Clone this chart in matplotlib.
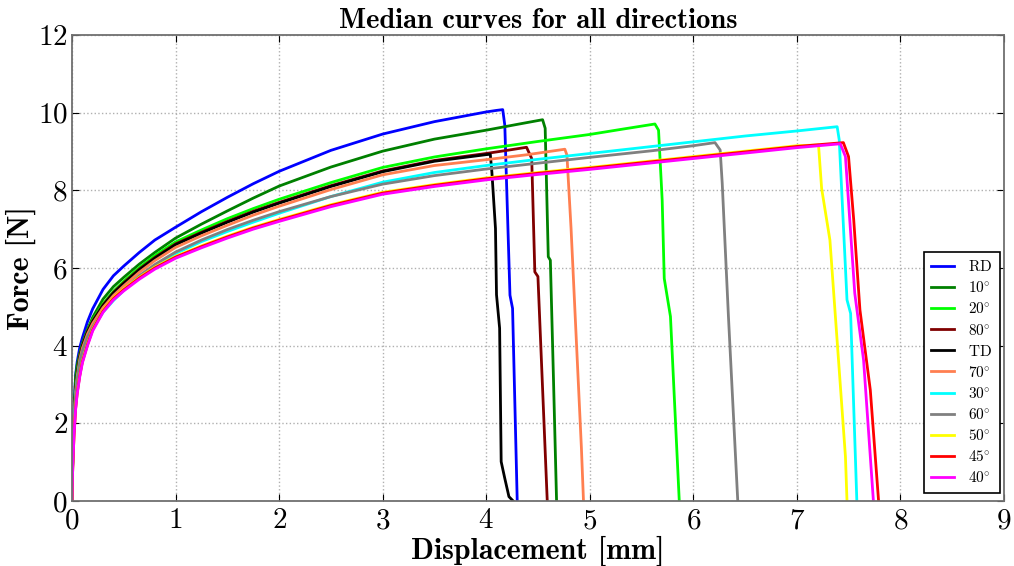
import matplotlib
matplotlib.use("Agg")
import matplotlib.pyplot as plt

plt.rcParams['mathtext.fontset'] = 'cm'
plt.rcParams['axes.formatter.use_mathtext'] = True

# displacement grid for the hardening part (shared by all curves) [mm]
disp_rise = [0, 0.005, 0.01, 0.02, 0.035, 0.05, 0.075, 0.1, 0.15, 0.2, 0.3, 0.4, 0.5,
             0.65, 0.8, 1.0, 1.25, 1.5, 1.75, 2.0, 2.5, 3.0, 3.5, 4.0]

# force on that grid [N]
f_rd = [0, 1.0, 1.6, 2.4, 3.25, 3.58, 3.95, 4.2, 4.62, 4.95, 5.45, 5.8, 6.05,
        6.4, 6.72, 7.05, 7.45, 7.82, 8.17, 8.49, 9.03, 9.45, 9.77, 10.02]
f_10 = [0, 0.95, 1.5, 2.35, 3.2, 3.5, 3.8, 4.05, 4.42, 4.73, 5.2, 5.52, 5.76,
        6.1, 6.4, 6.77, 7.13, 7.47, 7.8, 8.11, 8.6, 9.01, 9.32, 9.55]
f_20 = [0, 0.85, 1.35, 2.15, 2.9, 3.3, 3.74, 4.02, 4.39, 4.67, 5.08, 5.4, 5.66,
        6.01, 6.32, 6.67, 6.98, 7.27, 7.53, 7.77, 8.2, 8.59, 8.86, 9.07]
f_80 = [0, 0.82, 1.32, 2.12, 2.88, 3.28, 3.72, 4.0, 4.37, 4.64, 5.05, 5.37, 5.62,
        5.97, 6.27, 6.62, 6.92, 7.2, 7.46, 7.69, 8.12, 8.5, 8.77, 8.95]
f_td = [0, 0.8, 1.3, 2.1, 2.85, 3.25, 3.7, 3.98, 4.35, 4.62, 5.03, 5.35, 5.6,
        5.95, 6.25, 6.6, 6.9, 7.18, 7.44, 7.67, 8.1, 8.48, 8.75, 8.92]
f_70 = [0, 0.78, 1.28, 2.05, 2.8, 3.2, 3.65, 3.93, 4.3, 4.57, 4.98, 5.29, 5.54,
        5.89, 6.19, 6.53, 6.83, 7.1, 7.36, 7.59, 8.02, 8.4, 8.64, 8.79]
f_30 = [0, 0.75, 1.22, 1.98, 2.72, 3.1, 3.55, 3.83, 4.2, 4.45, 4.86, 5.16, 5.42,
        5.76, 6.05, 6.37, 6.68, 6.94, 7.18, 7.41, 7.84, 8.21, 8.46, 8.64]
f_60 = [0, 0.78, 1.25, 2.0, 2.75, 3.13, 3.58, 3.86, 4.23, 4.49, 4.9, 5.2, 5.45,
        5.8, 6.09, 6.41, 6.72, 6.99, 7.23, 7.45, 7.84, 8.16, 8.38, 8.55]
f_50 = [0, 0.68, 1.08, 1.74, 2.4, 2.8, 3.25, 3.6, 4.05, 4.43, 4.91, 5.23, 5.46,
        5.76, 6.02, 6.3, 6.57, 6.82, 7.05, 7.25, 7.63, 7.95, 8.15, 8.32]
f_45 = [0, 0.67, 1.07, 1.72, 2.38, 2.78, 3.23, 3.58, 4.03, 4.41, 4.89, 5.21, 5.44,
        5.74, 6.0, 6.28, 6.55, 6.8, 7.03, 7.23, 7.61, 7.93, 8.13, 8.3]
f_40 = [0, 0.65, 1.05, 1.7, 2.35, 2.75, 3.2, 3.55, 4.0, 4.38, 4.86, 5.18, 5.41,
        5.71, 5.97, 6.25, 6.52, 6.77, 7.0, 7.2, 7.58, 7.9, 8.1, 8.27]

# peak and fracture part, per curve
tail_x_rd = [4.1, 4.16, 4.18, 4.23, 4.255, 4.30]
tail_y_rd = [10.06, 10.08, 9.68, 5.3, 4.96, 0]
tail_x_10 = [4.3, 4.545, 4.57, 4.60, 4.62, 4.65, 4.68]
tail_y_10 = [9.7, 9.82, 9.6, 6.29, 6.2, 3.16, 0]
tail_x_20 = [4.5, 5.0, 5.3, 5.63, 5.665, 5.70, 5.72, 5.78, 5.865]
tail_y_20 = [9.26, 9.44, 9.57, 9.71, 9.55, 7.75, 5.73, 4.75, 0]
tail_x_80 = [4.2, 4.39, 4.44, 4.47, 4.50, 4.59]
tail_y_80 = [9.03, 9.11, 8.82, 5.9, 5.78, 0]
tail_x_td = [4.04, 4.055, 4.09, 4.10, 4.13, 4.145, 4.18, 4.22, 4.26]
tail_y_td = [8.93, 8.48, 7.02, 5.31, 4.45, 1.01, 0.58, 0.11, 0]
tail_x_70 = [4.4, 4.76, 4.78, 4.82, 4.92, 4.94]
tail_y_70 = [8.92, 9.06, 8.91, 7.02, 1.36, 0]
tail_x_30 = [4.5, 5.0, 5.5, 6.0, 6.5, 7.0, 7.39, 7.41, 7.485, 7.52, 7.58]
tail_y_30 = [8.8, 8.95, 9.1, 9.25, 9.4, 9.53, 9.64, 9.3, 5.18, 4.83, 0]
tail_x_60 = [4.5, 5.0, 5.6, 6.0, 6.21, 6.26, 6.28, 6.34, 6.43]
tail_y_60 = [8.7, 8.85, 9.02, 9.15, 9.23, 9.04, 8.18, 4.75, 0]
tail_x_50 = [4.5, 5.0, 5.5, 6.0, 6.5, 7.0, 7.21, 7.24, 7.32, 7.47, 7.485]
tail_y_50 = [8.46, 8.59, 8.73, 8.87, 9.01, 9.15, 9.17, 8.05, 6.72, 1.14, 0]
tail_x_45 = [4.5, 5.0, 5.5, 6.0, 6.5, 7.0, 7.45, 7.50, 7.55, 7.61, 7.71, 7.79]
tail_y_45 = [8.44, 8.57, 8.71, 8.85, 8.99, 9.13, 9.23, 8.87, 7.24, 4.92, 2.86, 0]
tail_x_40 = [4.5, 5.0, 5.5, 6.0, 6.5, 7.0, 7.42, 7.47, 7.56, 7.645, 7.74]
tail_y_40 = [8.41, 8.54, 8.68, 8.82, 8.96, 9.1, 9.2, 8.87, 5.35, 3.63, 0]

labels = [r'$\mathrm{RD}$', r'$10^{\circ}$', r'$20^{\circ}$', r'$80^{\circ}$', r'$\mathrm{TD}$',
          r'$70^{\circ}$', r'$30^{\circ}$', r'$60^{\circ}$', r'$50^{\circ}$', r'$45^{\circ}$', r'$40^{\circ}$']
colors = ['#0000ff', '#008000', '#00ff00', '#800000', '#000000',
          '#ff7f50', '#00ffff', '#808080', '#ffff00', '#ff0000', '#ff00ff']

rise = [f_rd, f_10, f_20, f_80, f_td, f_70, f_30, f_60, f_50, f_45, f_40]
tails_x = [tail_x_rd, tail_x_10, tail_x_20, tail_x_80, tail_x_td, tail_x_70,
           tail_x_30, tail_x_60, tail_x_50, tail_x_45, tail_x_40]
tails_y = [tail_y_rd, tail_y_10, tail_y_20, tail_y_80, tail_y_td, tail_y_70,
           tail_y_30, tail_y_60, tail_y_50, tail_y_45, tail_y_40]

fig = plt.figure(figsize=(10.14, 5.66), dpi=100)
ax = fig.add_axes([0.071, 0.115, 0.919, 0.823])

for f, tx, ty, lab, c in zip(rise, tails_x, tails_y, labels, colors):
    # TD breaks just after 4 mm, so its grid stops before the last point
    if tx[0] < disp_rise[-1]:
        xs = disp_rise[:-1] + tx
        ys = f[:-1] + ty
    else:
        xs = disp_rise + tx
        ys = f + ty
    ax.plot(xs, ys, color=c, lw=2, label=lab)

ax.set_xlim(0, 9)
ax.set_ylim(0, 12)
ax.set_xticks(range(0, 10))
ax.set_yticks(range(0, 13, 2))
ax.grid(True, ls=':', color='#b0b0b0', lw=1)
ax.tick_params(direction='in', top=True, right=True, length=5, labelsize=21)
ax.tick_params(axis='x', pad=5)
ax.tick_params(axis='y', pad=3)
for lab in ax.get_xticklabels() + ax.get_yticklabels():
    lab.set_fontfamily('cmr10')
for s in ax.spines.values():
    s.set_color('#707070')
    s.set_linewidth(1.3)

ax.set_xlabel('Displacement [mm]', fontfamily='cmb10', fontsize=21.5, labelpad=1)
ax.set_ylabel('Force [N]', fontfamily='cmb10', fontsize=21.5, labelpad=1)
ax.set_title('Median curves for all directions', fontfamily='cmb10', fontsize=20.5, pad=5)

leg = ax.legend(loc='lower right', bbox_to_anchor=(0.9957, 0.017), borderaxespad=0,
                fontsize=11, fancybox=False, framealpha=1, edgecolor='black',
                handlelength=1.5, handletextpad=0.9, labelspacing=0.4, borderpad=0.5)
leg.get_frame().set_linewidth(1.2)

fig.savefig('out.png', dpi=100)
